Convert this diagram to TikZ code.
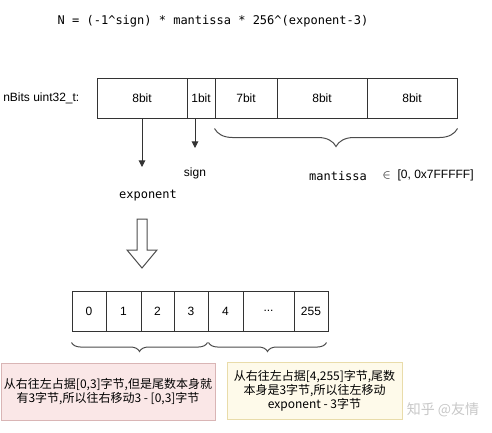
\documentclass[tikz,border=0pt]{standalone}
\usepackage{fontspec}
\setmainfont{Liberation Sans}
\newfontfamily\codefont{DejaVu Sans Mono}
\newfontfamily\cjk{Noto Sans CJK SC}
\usetikzlibrary{arrows.meta,decorations.pathreplacing}

\definecolor{pinkfill}{HTML}{FAE7E7}
\definecolor{pinkline}{HTML}{D9B5B5}
\definecolor{yellowfill}{HTML}{FEFAEA}
\definecolor{yellowline}{HTML}{E9DCAA}

\tikzset{
  cell/.style={shape=rectangle, draw=black!80, line width=0.75pt, minimum height=30pt, inner sep=0pt, font=\fontsize{9}{11}\selectfont},
  brc/.style={decorate, decoration={brace, mirror, amplitude=#1}, draw=black!70, line width=0.75pt},
  notebox/.style={shape=rectangle, line width=0.75pt, minimum height=42.75pt, align=center, inner sep=2pt, font=\cjk\fontsize{9}{10.5}\selectfont},
  codetxt/.style={font=\codefont\fontsize{9}{11}\selectfont},
  plaintxt/.style={font=\fontsize{9}{11}\selectfont}
}

\begin{document}
\begin{tikzpicture}[x=0.75pt, y=-0.75pt, >={Triangle[length=5pt,width=5pt]}]
    \useasboundingbox (0,0) rectangle (492,432);
    \node[codetxt, anchor=west] at (53,21) (formula) {N = (-1\textasciicircum sign) * mantissa * 256\textasciicircum(exponent-3)};

    % the 32 bits
    \node[plaintxt, anchor=west, inner sep=0pt] at (3,98) (nbits) {nBits uint32\_t:};
    \node[cell, minimum width=67.5pt] at (142,98) (exp) {8bit};
    \node[cell, minimum width=21pt] at (201,98) (sgn) {1bit};
    \node[cell, minimum width=46.5pt] at (246,98) (m1) {7bit};
    \node[cell, minimum width=67.5pt] at (322,98) (m2) {8bit};
    \node[cell, minimum width=67.5pt] at (412,98) (m3) {8bit};

    \coordinate (expend) at (142,167);
    \coordinate (sgnend) at (195,148);
    \draw[->, draw=black!80, line width=0.75pt] (exp) -- (expend);
    \draw[->, draw=black!80, line width=0.75pt] (sgn.south -| sgnend) -- (sgnend);
    \draw[brc=13.5pt] ([yshift=-7.5pt]m1.south west) -- ([yshift=-7.5pt]m3.south east);

    \node[plaintxt] at (195,173) (signlbl) {sign};
    \node[codetxt] at (148,196) (explbl) {exponent};
    \node[codetxt] at (338,176) (mantlbl) {mantissa};
    \node[plaintxt, anchor=west] at (378,175) (range) {$\in$\ \ [0, 0x7FFFFF]};

    % hollow arrow
    \draw[line width=0.75pt, draw=black!70] (137,219) -- (147,219) -- (147,250) -- (157,250) -- (142,268) -- (127,250) -- (137,250) -- cycle;

    % the bytes
    \node[cell, minimum width=25.5pt] at (89,311) (b0) {0};
    \node[cell, minimum width=26.25pt] at (123.5,311) (b1) {1};
    \node[cell, minimum width=24.75pt] at (157.5,311) (b2) {2};
    \node[cell, minimum width=25.5pt] at (191,311) (b3) {3};
    \node[cell, minimum width=26.25pt] at (225.5,311) (b4) {4};
    \node[cell, minimum width=38.25pt] at (268.5,311) (bdots) {...};
    \node[cell, minimum width=25.5pt] at (311,311) (b255) {255};

    \draw[brc=6.75pt] ([yshift=-8.25pt]b0.south west) -- ([yshift=-8.25pt,xshift=-0.75pt]b3.south east);
    \draw[brc=6.75pt] ([yshift=-8.25pt,xshift=0.75pt]b4.south west) -- ([yshift=-8.25pt,xshift=-1.5pt]b255.south east);

    \node[notebox, fill=pinkfill, draw=pinkline, minimum width=160.5pt] at (108,391.5) (leftnote) {从右往左占据[0,3]字节,但是尾数本身就\\有3字节,所以往右移动3 - [0,3]字节};
    \node[notebox, fill=yellowfill, draw=yellowline, minimum width=131.25pt] at (314.5,390.5) (rightnote) {从右往左占据[4,255]字节,尾数\\本身是3字节,所以往左移动\\exponent - 3字节};

    \node[font=\cjk\fontsize{10.5}{12}\selectfont, text=black!22] at (443,410) (mark) {知乎 @友情};
\end{tikzpicture}
\end{document}
